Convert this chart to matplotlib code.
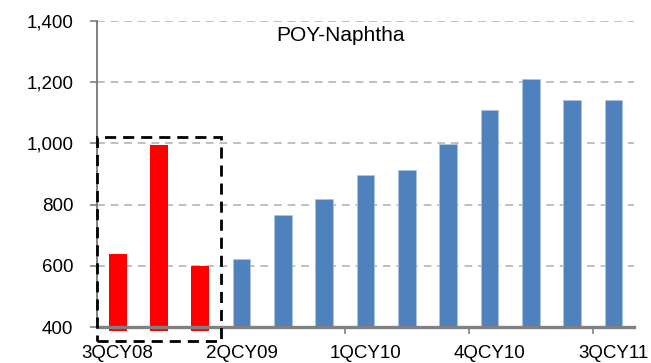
import matplotlib.pyplot as plt
from matplotlib.patches import Rectangle
from matplotlib.ticker import FuncFormatter

plt.rcParams["font.family"] = ["Liberation Sans", "DejaVu Sans"]

quarters = ["3QCY08", "4QCY08", "1QCY09", "2QCY09", "3QCY09", "4QCY09", "1QCY10",
            "2QCY10", "3QCY10", "4QCY10", "1QCY11", "2QCY11", "3QCY11"]
spread = [638, 994, 598, 624, 766, 819, 896, 914, 998, 1108, 1212, 1142, 1142]
# first three quarters are the highlighted (crisis) period
highlight = [True, True, True] + [False] * 10

fig = plt.figure(figsize=(6.51, 3.63), dpi=100)
ax = fig.add_axes([0.149, 0.099, 0.825, 0.843])

x = list(range(len(quarters)))
for i, v in enumerate(spread):
    if highlight[i]:
        ax.bar(i, v - 388, bottom=388, width=0.43, color="#FF0000", clip_on=False, zorder=3)
    else:
        ax.bar(i, v - 400, bottom=400, width=0.43, color="#4F81BD",
               edgecolor="#A9C4E4", linewidth=0.6, zorder=3)

ax.set_xlim(-0.5, len(quarters) - 0.5)
ax.set_ylim(400, 1400)
ax.set_yticks(range(400, 1401, 200))
ax.yaxis.set_major_formatter(FuncFormatter(lambda v, p: f"{int(v):,}"))
ax.grid(axis="y", color="#BFBFBF", linestyle=(0, (4, 3)), linewidth=1.4, zorder=0)

ax.set_xticks(x[::3])
ax.set_xticklabels(quarters[::3])
ax.set_xticks([2.5, 5.5, 8.5, 11.5], minor=True)
ax.tick_params(axis="x", which="major", length=0, pad=13, labelsize=13.5)
ax.tick_params(axis="x", which="minor", length=5, width=1.2, color="#808080")
ax.tick_params(axis="y", length=5, width=1.2, color="#808080", labelsize=13.5, pad=12)

for s in ["top", "right"]:
    ax.spines[s].set_visible(False)
ax.spines["left"].set_color("#808080")
ax.spines["left"].set_linewidth(1.4)
ax.spines["bottom"].set_color("#808080")
ax.spines["bottom"].set_linewidth(2.4)
ax.spines["bottom"].set_zorder(4)

ax.text(5.4, 1354, "POY-Naphtha", fontsize=15, ha="center", va="center")

box = Rectangle((-0.5, 354), 3.0, 667, fill=False, edgecolor="black",
                linestyle=(0, (4, 2.5)), linewidth=2.0, clip_on=False, zorder=5)
ax.add_patch(box)

fig.savefig("out.png", dpi=100)
